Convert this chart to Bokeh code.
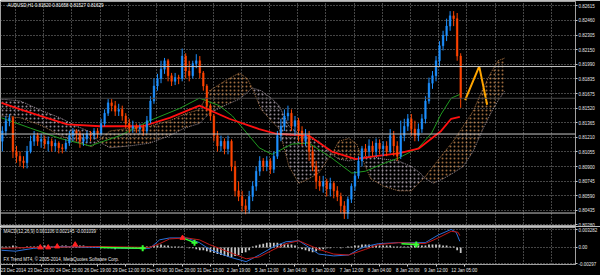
from bokeh.plotting import figure
from bokeh.layouts import column
from bokeh.models import Range1d, FixedTicker, Span, Label, PrintfTickFormatter
from bokeh.embed import file_html
from bokeh.resources import INLINE

# ---------------- data ----------------
symbol_text = "AUDUSD,H1  0.81620 0.81658 0.81527 0.81629"
macd_text = "MACD(12,26,9) 0.001106 0.002145 -0.001039"
copyright_text = "FX Trend MT4, \u00a9 2005-2014, MetaQuotes Software Corp."

time_labels = ["23 Dec 2014", "23 Dec 23:00", "24 Dec 15:00", "26 Dec 19:00", "29 Dec 12:00",
               "30 Dec 04:00", "30 Dec 20:00", "31 Dec 12:00", "2 Jan 19:00", "5 Jan 12:00",
               "6 Jan 04:00", "6 Jan 20:00", "7 Jan 12:00", "8 Jan 04:00", "8 Jan 20:00",
               "9 Jan 12:00", "12 Jan 05:00"]
time_label_hour = [0, 16, 32, 48, 64, 80, 96, 112, 128, 144, 160, 176, 192, 208, 224, 240, 256]

price_ticks = [0.82615, 0.82460, 0.82305, 0.82150, 0.81990, 0.81835, 0.81675, 0.81520,
               0.81365, 0.81210, 0.81055, 0.80900, 0.80745, 0.80590, 0.80435, 0.80280]
level_lines = [0.81968, 0.81247, 0.80403]
bid_price = 0.81629

# two-hour candles (hour index of the first hour of each candle)
candle_hour = list(range(0, 261, 2))
open_ = [0.8117, 0.8128, 0.8139, 0.8142, 0.8106, 0.8101, 0.8096, 0.8094, 0.8106, 0.8117,
         0.8123, 0.8117, 0.8119, 0.8114, 0.8117, 0.8112, 0.8115, 0.8110, 0.8109, 0.8115,
         0.8123, 0.8128, 0.8125, 0.8117, 0.8120, 0.8125, 0.8123, 0.8128, 0.8125, 0.8136,
         0.8147, 0.8158, 0.8155, 0.8149, 0.8151, 0.8144, 0.8136, 0.8131, 0.8133, 0.8130,
         0.8132, 0.8128, 0.8139, 0.8160, 0.8176, 0.8184, 0.8194, 0.8203, 0.8187, 0.8181,
         0.8185, 0.8184, 0.8208, 0.8192, 0.8187, 0.8200, 0.8203, 0.8190, 0.8176, 0.8155,
         0.8144, 0.8123, 0.8112, 0.8117, 0.8109, 0.8117, 0.8090, 0.8064, 0.8058, 0.8048,
         0.8044, 0.8058, 0.8069, 0.8085, 0.8096, 0.8090, 0.8096, 0.8087, 0.8101, 0.8123,
         0.8133, 0.8144, 0.8147, 0.8133, 0.8139, 0.8128, 0.8117, 0.8123, 0.8106, 0.8090,
         0.8074, 0.8069, 0.8074, 0.8066, 0.8072, 0.8064, 0.8058, 0.8048, 0.8040, 0.8055,
         0.8069, 0.8080, 0.8096, 0.8109, 0.8106, 0.8112, 0.8106, 0.8115, 0.8109, 0.8112,
         0.8106, 0.8123, 0.8112, 0.8101, 0.8123, 0.8133, 0.8141, 0.8130, 0.8123, 0.8130,
         0.8141, 0.8160, 0.8179, 0.8187, 0.8203, 0.8219, 0.8230, 0.8240, 0.8251, 0.8248,
         0.8208]
close = [0.8128, 0.8139, 0.8142, 0.8106, 0.8101, 0.8096, 0.8094, 0.8106, 0.8117, 0.8123,
         0.8117, 0.8119, 0.8114, 0.8117, 0.8112, 0.8115, 0.8110, 0.8109, 0.8115, 0.8123,
         0.8128, 0.8125, 0.8117, 0.8120, 0.8125, 0.8123, 0.8128, 0.8125, 0.8136, 0.8147,
         0.8158, 0.8155, 0.8149, 0.8151, 0.8144, 0.8136, 0.8131, 0.8133, 0.8130, 0.8132,
         0.8128, 0.8139, 0.8160, 0.8176, 0.8184, 0.8194, 0.8203, 0.8187, 0.8181, 0.8185,
         0.8184, 0.8208, 0.8192, 0.8187, 0.8200, 0.8203, 0.8190, 0.8176, 0.8155, 0.8144,
         0.8123, 0.8112, 0.8117, 0.8109, 0.8117, 0.8090, 0.8064, 0.8058, 0.8048, 0.8044,
         0.8058, 0.8069, 0.8085, 0.8096, 0.8090, 0.8096, 0.8087, 0.8101, 0.8123, 0.8133,
         0.8144, 0.8147, 0.8133, 0.8139, 0.8128, 0.8117, 0.8123, 0.8106, 0.8090, 0.8074,
         0.8069, 0.8074, 0.8066, 0.8072, 0.8064, 0.8058, 0.8048, 0.8040, 0.8055, 0.8069,
         0.8080, 0.8096, 0.8109, 0.8106, 0.8112, 0.8106, 0.8115, 0.8109, 0.8112, 0.8106,
         0.8123, 0.8112, 0.8101, 0.8123, 0.8133, 0.8141, 0.8130, 0.8123, 0.8130, 0.8141,
         0.8160, 0.8179, 0.8187, 0.8203, 0.8219, 0.8230, 0.8240, 0.8251, 0.8248, 0.8208,
         0.81629]
high = [0.8133, 0.8144, 0.8146, 0.8144, 0.8112, 0.8106, 0.8101, 0.8112, 0.8123, 0.8128,
        0.8126, 0.8125, 0.8123, 0.8122, 0.8120, 0.8119, 0.8117, 0.8114, 0.8119, 0.8128,
        0.8131, 0.8130, 0.8128, 0.8125, 0.8128, 0.8128, 0.8131, 0.8131, 0.8141, 0.8151,
        0.8162, 0.8162, 0.8160, 0.8157, 0.8155, 0.8147, 0.8141, 0.8139, 0.8136, 0.8136,
        0.8135, 0.8144, 0.8165, 0.8184, 0.8189, 0.8203, 0.8206, 0.8205, 0.8190, 0.8190,
        0.8188, 0.8216, 0.8211, 0.8203, 0.8203, 0.8210, 0.8208, 0.8192, 0.8178, 0.8157,
        0.8146, 0.8128, 0.8123, 0.8120, 0.8123, 0.8119, 0.8096, 0.8074, 0.8064, 0.8055,
        0.8064, 0.8074, 0.8090, 0.8101, 0.8099, 0.8101, 0.8099, 0.8106, 0.8128, 0.8141,
        0.8151, 0.8155, 0.8151, 0.8144, 0.8142, 0.8133, 0.8130, 0.8128, 0.8112, 0.8096,
        0.8080, 0.8080, 0.8077, 0.8078, 0.8074, 0.8069, 0.8062, 0.8053, 0.8058, 0.8072,
        0.8085, 0.8101, 0.8112, 0.8114, 0.8119, 0.8117, 0.8120, 0.8119, 0.8117, 0.8117,
        0.8130, 0.8128, 0.8117, 0.8139, 0.8141, 0.8146, 0.8146, 0.8139, 0.8136, 0.8146,
        0.8165, 0.8185, 0.8192, 0.8208, 0.8224, 0.8235, 0.8248, 0.8256, 0.8256, 0.8254,
        0.8211]
low = [0.8106, 0.8123, 0.8133, 0.8099, 0.8094, 0.8090, 0.8088, 0.8088, 0.8104, 0.8112,
       0.8112, 0.8110, 0.8109, 0.8106, 0.8106, 0.8106, 0.8104, 0.8104, 0.8106, 0.8112,
       0.8117, 0.8117, 0.8110, 0.8112, 0.8115, 0.8117, 0.8119, 0.8120, 0.8123, 0.8133,
       0.8144, 0.8149, 0.8144, 0.8144, 0.8139, 0.8131, 0.8126, 0.8126, 0.8126, 0.8125,
       0.8123, 0.8125, 0.8136, 0.8157, 0.8171, 0.8179, 0.8189, 0.8181, 0.8176, 0.8177,
       0.8178, 0.8181, 0.8184, 0.8181, 0.8184, 0.8195, 0.8184, 0.8171, 0.8149, 0.8139,
       0.8117, 0.8106, 0.8106, 0.8103, 0.8103, 0.8085, 0.8058, 0.8053, 0.8042, 0.8039,
       0.8040, 0.8053, 0.8064, 0.8080, 0.8085, 0.8085, 0.8082, 0.8083, 0.8098, 0.8117,
       0.8128, 0.8139, 0.8128, 0.8123, 0.8117, 0.8112, 0.8112, 0.8096, 0.8085, 0.8066,
       0.8064, 0.8062, 0.8058, 0.8058, 0.8056, 0.8053, 0.8040, 0.8034, 0.8034, 0.8051,
       0.8064, 0.8077, 0.8090, 0.8101, 0.8101, 0.8101, 0.8101, 0.8103, 0.8101, 0.8101,
       0.8104, 0.8101, 0.8096, 0.8098, 0.8117, 0.8128, 0.8123, 0.8117, 0.8117, 0.8126,
       0.8136, 0.8157, 0.8173, 0.8181, 0.8197, 0.8214, 0.8224, 0.8235, 0.8240, 0.8203,
       0.81527]

# moving averages
ma_red_hour = [0, 10.7, 22.0, 37.3, 55.9, 80.1, 95.4, 112.3, 129.2, 146.2, 155.8, 174.4,
               187.4, 201.0, 212.2, 225.2, 236.5, 249.4, 255.1, 260]
ma_red = [0.8158, 0.8151, 0.8144, 0.8135, 0.8133, 0.8133, 0.8142, 0.8155, 0.8141, 0.8130,
          0.8125, 0.8123, 0.8106, 0.8098, 0.8101, 0.8104, 0.8109, 0.8128, 0.8141, 0.8143]
ma_green_hour = [0, 16.4, 33.3, 50.2, 67.2, 84.1, 101.0, 112.3, 123.6, 131.0, 146.2, 153.5,
                 164.8, 174.4, 187.4, 198.7, 206.5, 217.8, 225.2, 236.5, 243.8, 249.4, 255.1, 260]
ma_green = [0.8142, 0.8131, 0.8120, 0.8112, 0.8123, 0.8139, 0.8152, 0.8163, 0.8155, 0.8144,
            0.8110, 0.8103, 0.8114, 0.8115, 0.8099, 0.8083, 0.8085, 0.8094, 0.8099, 0.8110,
            0.8125, 0.8146, 0.8163, 0.8167]

# Ichimoku cloud (Senkou span A / B, shifted forward)
cloud_hour = [0, 10.7, 23.7, 33.3, 42.9, 51.4, 54.7, 61.5, 72.8, 84.1, 95.4, 103.8, 112.3,
              118.0, 126.4, 134.9, 139.4, 142.2, 147.3, 153.0, 157.5, 163.1, 168.7, 174.4,
              180.0, 184.5, 187.4, 191.3, 197.0, 201.5, 204.3, 209.4, 216.7, 225.2, 232.5,
              237.6, 239.8, 244.9, 250.6, 256.2, 261.9, 267.5, 273.1, 277.6, 281.6, 285.6]
span_a = [0.8144, 0.8142, 0.8133, 0.8123, 0.8116, 0.8111, 0.8117, 0.8128, 0.8131, 0.8133,
          0.8139, 0.8146, 0.8151, 0.8171, 0.8181, 0.8190, 0.8184, 0.8174, 0.8151, 0.8139,
          0.8130, 0.8090, 0.8072, 0.8077, 0.8083, 0.8096, 0.8103, 0.8117, 0.8120, 0.8114,
          0.8100, 0.8077, 0.8069, 0.8064, 0.8064, 0.8074, 0.8078, 0.8090, 0.8104, 0.8117,
          0.8133, 0.8149, 0.8173, 0.8190, 0.8203, 0.8206]
span_b = [0.8162, 0.8160, 0.8149, 0.8142, 0.8133, 0.8126, 0.8117, 0.8110, 0.8112, 0.8115,
          0.8123, 0.8131, 0.8136, 0.8147, 0.8155, 0.8162, 0.8169, 0.8174, 0.8171, 0.8163,
          0.8155, 0.8133, 0.8125, 0.8120, 0.8117, 0.8109, 0.8103, 0.8098, 0.8096, 0.8098,
          0.8100, 0.8101, 0.8098, 0.8096, 0.8090, 0.8083, 0.8078, 0.8072, 0.8077, 0.8083,
          0.8090, 0.8106, 0.8130, 0.8147, 0.8160, 0.8171]

# hand-drawn projection
proj_hour = [263.0, 271.0, 275.5]
proj_price = [0.8161, 0.8197, 0.8156]

# MACD pane
macd_hour = [0, 7.9, 18.1, 33.3, 55.9, 70.0, 84.1, 89.7, 95.4, 105.0, 112.3, 118.0, 129.2,
             138.8, 146.2, 154.6, 161.4, 168.7, 174.4, 180.0, 188.5, 197.0, 202.6, 206.5,
             213.9, 225.2, 240.4, 247.7, 255.1, 257.9, 260]
macd_main = [-0.00052, -0.00069, -0.00017, 0.00017, 0.0, -0.00017, -0.00017, 0.00139, 0.00174,
             0.00174, 0.00087, -0.00035, -0.00174, -0.00261, -0.00139, 0.00017, 0.00104,
             0.00122, 0.0, -0.00122, -0.00156, -0.00139, -0.00035, 0.00017, 0.00069, 0.00087,
             0.00087, 0.00226, 0.00330, 0.00278, 0.00111]
signal_hour = [0, 18.1, 55.9, 84.1, 89.7, 95.4, 105.0, 112.3, 118.0, 129.2, 138.8, 146.2,
               154.6, 161.4, 168.7, 180.0, 188.5, 197.0, 206.5, 213.9, 225.2, 240.4, 247.7,
               255.1, 259.0, 260]
macd_signal = [-0.00017, 0.0, 0.00017, 0.0, 0.00069, 0.00156, 0.00174, 0.00139, 0.00052,
               -0.00087, -0.00208, -0.00174, -0.00035, 0.00069, 0.00122, -0.00035, -0.00122,
               -0.00139, -0.00035, 0.00052, 0.00087, 0.00069, 0.00174, 0.00295, 0.00278, 0.00215]
macd_hist = [0.00017, 0.00017, 0.00017, 0.00035, 0.00017, -0.00017, -0.00017, 0.00017, 0.00017, 0.00017,
             0.00017, 0.00017, 0.00035, 0.00035, 0.00017, 0.00017, 0.00017, 0.00035, 0.00035, 0.00017,
             0.00017, 0.00017, 0.00035, 0.00035, 0.00017, 0.00017, 0.00017, 0.00017, -0.00017,
             -0.00017, -0.00017, -0.00017, -0.00035, -0.00017, -0.00017, -0.00017, -0.00017, -0.00017,
             -0.00017, -0.00017, -0.00017, 0.00017, 0.00017,
             0.00035, 0.00035, 0.00052, 0.00035, 0.00035, 0.00017, 0.00017, 0.00017, 0.00017, 0.0,
             -0.00017, -0.00017, -0.00035, -0.00052, -0.00052,
             -0.00069, -0.00087, -0.00104, -0.00122, -0.00139, -0.00156, -0.00174, -0.00174, -0.00156,
             -0.00139, -0.00104, -0.00087, -0.00052,
             0.00017, 0.00035, 0.00052, 0.00069, 0.00087, 0.00087, 0.00087, 0.00087, 0.00069, 0.00069,
             0.00052, 0.00052, 0.00035,
             -0.00017, -0.00035, -0.00052, -0.00069, -0.00087, -0.00069, -0.00052,
             -0.00035, -0.00017, -0.00017, 0.0, 0.0, -0.00017, 0.0, 0.00017,
             0.00017, 0.00035, 0.00035, 0.00052, 0.00052, 0.00052, 0.00035, 0.00035, 0.00035, 0.00035,
             0.00035, 0.00035, 0.00017, 0.00017, 0.00017, 0.00017, 0.00017, 0.00035, 0.00035, 0.00035,
             0.00035, 0.00035, 0.00052, 0.00052, 0.00052, 0.00052, 0.00035,
             0.00035, 0.00017, 0.00017,
             -0.00052, -0.00104]
macd_ticks = [0.003282, 0.0, -0.00297]
macd_tick_labels = ["0.003282", "0.00", "-0.00297"]
sell_arrow_hour = [22.0, 26.5, 31.6, 41.8, 102.7]
sell_arrow_val = [0.0, 0.0, 0.00017, 0.00052, 0.00174]
buy_cross_hour = [80.1, 109.5, 235.3]
buy_cross_val = [-0.00017, 0.00087, 0.00052]
signal_seg_hour = [[55.9, 80.1], [102.7, 109.5], [226.9, 235.3]]
signal_seg_val = [[0.0, -0.00017], [0.00174, 0.00087], [0.00069, 0.00052]]

# ---------------- styling / layout ----------------
FONT = "Liberation Sans"
FS = "4.5px"
BULL = "#1e90ff"
BEAR = "#ff4500"
GRID = "#8a8a8a"
FRAME_W = 578
PX_PER_H = 1.772
X0 = -0.56
x_end = FRAME_W / PX_PER_H + X0
xr = Range1d(X0, x_end)


def style_axis(ax):
    ax.axis_line_color = "#a0a0a0"
    ax.major_tick_line_color = "#c8c8c8"
    ax.major_tick_out = 2
    ax.major_tick_in = 0
    ax.minor_tick_line_color = None
    ax.major_label_text_font = FONT
    ax.major_label_text_font_size = FS
    ax.major_label_text_color = "#e6e6e6"
    ax.major_label_standoff = 1


grid_ticks = [8 + 16 * k for k in range(21)]

p = figure(width=600, height=226, x_range=xr, y_range=Range1d(0.80259, 0.82663),
           output_backend="svg", toolbar_location=None,
           x_axis_location=None, y_axis_location="right",
           min_border_left=0, min_border_right=22, min_border_top=1, min_border_bottom=0,
           background_fill_color="black", border_fill_color="black",
           outline_line_color="#a0a0a0")
p.yaxis.ticker = FixedTicker(ticks=price_ticks)
p.yaxis.formatter = PrintfTickFormatter(format="%.5f")
style_axis(p.yaxis[0])
p.xgrid.ticker = FixedTicker(ticks=grid_ticks)
for g in (p.xgrid[0], p.ygrid[0]):
    g.grid_line_color = GRID
    g.grid_line_dash = "1 2"
    g.grid_line_width = 1

# Ichimoku cloud: split into runs between crossings
n = len(cloud_hour)
runs = []
cur = [0]
for i in range(1, n):
    cur.append(i)
    if span_a[i] == span_b[i] or i == n - 1:
        runs.append(cur)
        cur = [i]
for r in runs:
    xs = [cloud_hour[i] for i in r]
    a = [span_a[i] for i in r]
    b = [span_b[i] for i in r]
    up = sum(ai - bi for ai, bi in zip(a, b)) > 0
    col = "#e0985a" if up else "#d0c0d0"
    p.varea(x=xs, y1=[min(u, v) for u, v in zip(a, b)], y2=[max(u, v) for u, v in zip(a, b)],
            fill_alpha=0, hatch_pattern="dot", hatch_color=col, hatch_scale=4,
            hatch_weight=1, hatch_alpha=0.7)
p.line(cloud_hour, span_a, line_color="#e0985a", line_dash="1 1", line_width=1, line_alpha=0.7)
p.line(cloud_hour, span_b, line_color="#d0c0d0", line_dash="1 1", line_width=1, line_alpha=0.7)

# horizontal levels
for lv in level_lines:
    p.add_layout(Span(location=lv, dimension="width", line_color="#c8c8c8", line_width=1))
p.add_layout(Span(location=bid_price, dimension="width", line_color="#4a4a4a", line_width=1))

# moving averages
p.line(ma_green_hour, ma_green, line_color="#1f9a1f", line_width=1)
p.line(ma_red_hour, ma_red, line_color="#ff1010", line_width=1.8)

# candles
xc = [h + 0.5 for h in candle_hour]
colors = [BULL if c >= o else BEAR for o, c in zip(open_, close)]
p.segment(x0=xc, y0=low, x1=xc, y1=high, line_color=colors, line_width=1)
p.vbar(x=xc, width=0.9, top=open_, bottom=close, fill_color=colors, line_color=colors, line_width=0.5)

# projection zig-zag
p.line(proj_hour, proj_price, line_color="#ffa500", line_width=2)

# highlighted price labels on the axis
for lv in level_lines + [bid_price]:
    p.add_layout(Label(x=x_end, y=lv, x_offset=1, text="%.5f" % lv, text_font=FONT,
                       text_font_size=FS, text_color="black", text_baseline="middle",
                       text_align="left", background_fill_color="white", padding=1))

p.add_layout(Label(x=7, y=0.82615, x_units="screen", text=symbol_text, text_font=FONT,
                   text_font_size=FS, text_color="white", text_baseline="middle"))

# ---------------- MACD pane ----------------
q = figure(width=600, height=49, x_range=xr, y_range=Range1d(-0.00313, 0.00365),
           output_backend="svg", toolbar_location=None,
           x_axis_location="below", y_axis_location="right",
           min_border_left=0, min_border_right=22, min_border_top=1, min_border_bottom=0,
           background_fill_color="black", border_fill_color="black",
           outline_line_color="#a0a0a0")
q.yaxis.ticker = FixedTicker(ticks=macd_ticks)
q.yaxis.major_label_overrides = {t: s for t, s in zip(macd_ticks, macd_tick_labels)}
xt = [h + 6.5 for h in time_label_hour]
q.xaxis.ticker = FixedTicker(ticks=xt)
q.xaxis.major_label_overrides = {t: s for t, s in zip(xt, time_labels)}
style_axis(q.yaxis[0])
style_axis(q.xaxis[0])
q.xgrid.ticker = FixedTicker(ticks=grid_ticks)
for g in (q.xgrid[0], q.ygrid[0]):
    g.grid_line_color = GRID
    g.grid_line_dash = "1 2"

q.vbar(x=xc, width=1.0, top=macd_hist, bottom=0, fill_color="#c8c8c8", line_color=None)
q.line(macd_hour, macd_main, line_color="#2a6fd6", line_width=1)
q.line(signal_hour, macd_signal, line_color="#c01818", line_width=1)
q.multi_line(signal_seg_hour, signal_seg_val, line_color="#33ff33", line_width=1.5)
q.scatter(sell_arrow_hour, sell_arrow_val, marker="triangle", size=5, fill_color="#ff2020",
          line_color="#ff2020")
q.scatter(buy_cross_hour, buy_cross_val, marker="cross", size=6, line_color="#33ff33", line_width=2)

q.add_layout(Label(x=3, y=0.00295, x_units="screen", text=macd_text, text_font=FONT,
                   text_font_size=FS, text_color="#e6e6e6", text_baseline="middle"))
q.add_layout(Label(x=3, y=-0.00226, x_units="screen", text=copyright_text, text_font=FONT,
                   text_font_size=FS, text_color="#e6e6e6", text_baseline="middle"))

layout = column(p, q, spacing=0)
open("out.html", "w").write(file_html(layout, INLINE))
